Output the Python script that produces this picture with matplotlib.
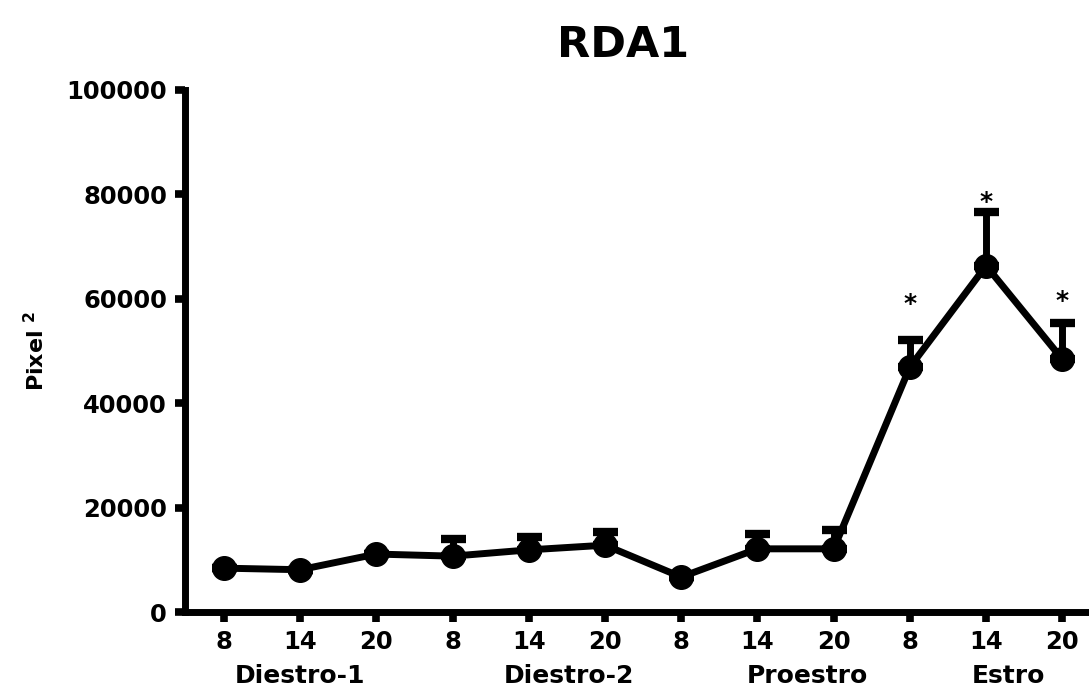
import numpy as np
import matplotlib.pyplot as plt

# RDA1 area by phase and hour
hours = ['8', '14', '20', '8', '14', '20', '8', '14', '20', '8', '14', '20']
phases = ['Diestro-1', 'Diestro-2', 'Proestro', 'Estro']
means = [8400, 8100, 11100, 10700, 11900, 12800, 6700, 12100, 12100, 46900, 66300, 48400]
sem = [0, 0, 0, 3200, 2400, 2500, 0, 2900, 3600, 5200, 10200, 6900]
# significance marks: point index and height of the asterisk
star_idx = [9, 10, 11]
star_y = [60300, 79800, 60800]

x = np.arange(len(means))
phase_pos = [1.0, 4.53, 7.66, 10.29]

fig = plt.figure(figsize=(10.89, 6.9), dpi=100)
ax = fig.add_axes([0.170, 0.113, 0.830, 0.757])

ax.errorbar(x, means, yerr=[np.zeros(len(sem)), sem], fmt='none',
            ecolor='black', elinewidth=5, capsize=9, capthick=6, zorder=2)
ax.plot(x, means, color='black', lw=5, marker='o', markersize=17, zorder=3)

for i, sy in zip(star_idx, star_y):
    ax.annotate('*', (x[i], sy), xytext=(0, -10), textcoords='offset points',
                ha='center', va='baseline', fontsize=18, fontweight='bold')

ax.set_xlim(-0.51, 11.35)
ax.set_ylim(0, 100000)
ax.set_xticks(x)
ax.set_xticklabels(hours)
ax.set_yticks([0, 20000, 40000, 60000, 80000, 100000])

for s in ['top', 'right']:
    ax.spines[s].set_visible(False)
for s in ['left', 'bottom']:
    ax.spines[s].set_linewidth(5)

ax.tick_params(which='major', length=7, width=5.5, labelsize=17.5, pad=6)
for lab in ax.get_xticklabels() + ax.get_yticklabels():
    lab.set_fontweight('bold')

for p, name in zip(phase_pos, phases):
    ax.text(p, -0.10, name, transform=ax.get_xaxis_transform(),
            ha='center', va='top', fontsize=18, fontweight='bold')

ax.set_ylabel(r'Pixel $^{\mathbf{2}}$', fontsize=16, fontweight='bold', labelpad=13)
fig.text(0.572, 0.935, 'RDA1', ha='center', va='center', fontsize=31, fontweight='bold')

fig.savefig('out.png', dpi=100)
